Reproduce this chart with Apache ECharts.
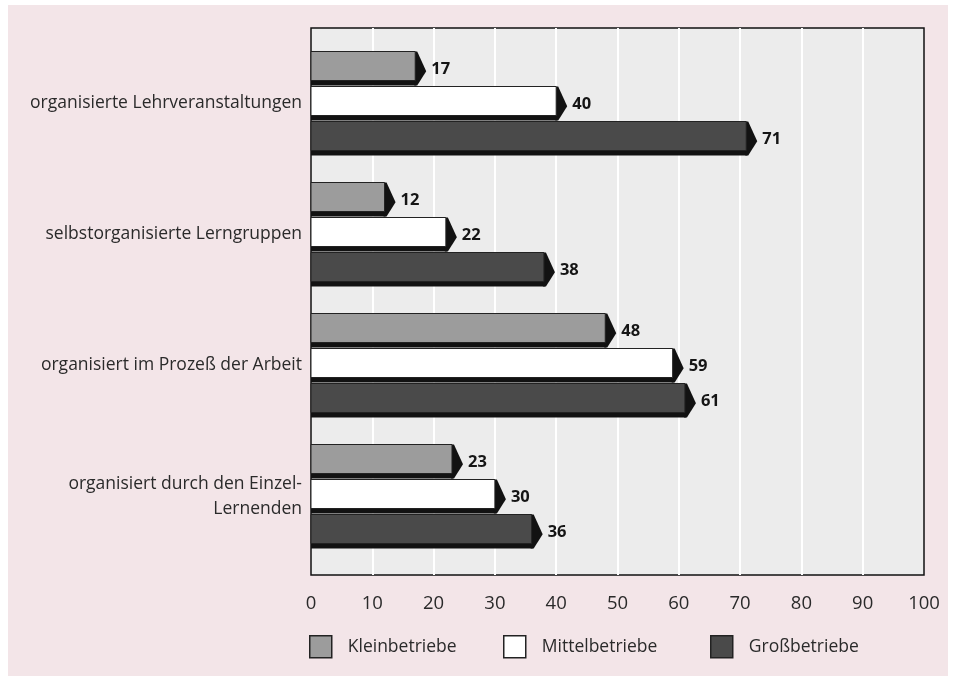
<!DOCTYPE html>
<html>
<head>
<meta charset="utf-8">
<script src="https://cdn.jsdelivr.net/npm/echarts@6/dist/echarts.min.js"></script>
<style>
  html, body { margin: 0; padding: 0; background: #ffffff; }
  #paper { position: absolute; left: 8px; top: 5px; width: 940px; height: 671px; background: #f3e5e8; }
  #main { position: absolute; left: 0; top: 0; width: 956px; height: 676px; }
</style>
</head>
<body>
<div id="paper"></div>
<div id="main"></div>
<script>
// ---- data ----
const categories = [
  'organisierte Lehrveranstaltungen',
  'selbstorganisierte Lerngruppen',
  'organisiert im Prozeß der Arbeit',
  'organisiert durch den Einzel-\nLernenden'
];
const seriesNames = ['Kleinbetriebe', 'Mittelbetriebe', 'Großbetriebe'];
const kleinbetriebe = [17, 12, 48, 23];
const mittelbetriebe = [40, 22, 59, 30];
const grossbetriebe = [71, 38, 61, 36];
const xTicks = [0, 10, 20, 30, 40, 50, 60, 70, 80, 90, 100];

// ---- styles ----
const colors = ['#9c9c9c', '#ffffff', '#4a4a4a'];
const dark = '#121212';
const FONT = '"Open Sans", "Noto Sans", sans-serif';

const chart = echarts.init(document.getElementById('main'), null, { renderer: 'canvas' });

function renderBar(params, api) {
  const val = api.value(0);
  const cat = api.value(1);
  const end = api.coord([val, cat]);
  const start = api.coord([0, cat]);
  const band = api.size([0, 1])[1];
  const pitch = band * 35 / 131;
  const barH = band * 29 / 131;
  const sh = band * 5 / 131;
  const total = barH + sh;
  const center = end[1] + (params.seriesIndex - 1) * pitch;
  const top = center - total / 2;
  const x0 = start[0];
  const vx = end[0];
  const fill = colors[params.seriesIndex];
  return {
    type: 'group',
    children: [
      { type: 'rect', shape: { x: x0, y: top + barH - 1, width: vx - x0 + 1, height: sh + 1 },
        style: { fill: dark } },
      { type: 'polygon',
        shape: { points: [[vx - 1, top], [vx + 2, top], [vx + 11, top + total * 0.58], [vx + 2, top + total], [vx - 1, top + total]] },
        style: { fill: dark } },
      { type: 'rect', shape: { x: x0, y: top, width: vx - x0, height: barH },
        style: { fill: fill, stroke: '#222', lineWidth: 1 } },
      { type: 'text',
        style: { text: String(val), x: vx + 16, y: top + total * 0.53, verticalAlign: 'middle', align: 'left',
                 font: 'bold 16.5px ' + FONT, fill: '#151515' } }
    ]
  };
}

const seriesData = [kleinbetriebe, mittelbetriebe, grossbetriebe];

function legendFor(i, left) {
  return {
    left: left, top: 635, padding: 0,
    itemWidth: 22, itemHeight: 22, itemGap: 0,
    selectedMode: false,
    data: [{ name: seriesNames[i], icon: 'rect',
             itemStyle: { color: colors[i], borderColor: '#222', borderWidth: 1.5 } }],
    textStyle: { fontFamily: FONT, fontSize: 17.5, color: '#2a2a2a', padding: [0, 0, 0, 11] }
  };
}

const option = {
  backgroundColor: 'transparent',
  animation: false,
  grid: [
    { left: 311, top: 28, width: 613, height: 547, show: true, backgroundColor: '#ececec',
      borderColor: '#111', borderWidth: 1.5 },
    { left: 311, top: 38, width: 613, height: 524 }
  ],
  xAxis: [
    { type: 'value', gridIndex: 0, min: 0, max: 100, interval: 10,
      axisLine: { show: false }, axisTick: { show: false },
      splitLine: { show: true, showMinLine: false, showMaxLine: false, lineStyle: { color: '#ffffff', width: 2 } },
      axisLabel: { fontFamily: FONT, fontSize: 18.5, color: '#2a2a2a', margin: 19,
                   formatter: v => xTicks.indexOf(v) >= 0 ? String(v) : '' } },
    { type: 'value', gridIndex: 1, min: 0, max: 100, interval: 10, show: false }
  ],
  yAxis: [
    { type: 'category', gridIndex: 0, show: false, data: ['a'] },
    { type: 'category', gridIndex: 1, data: categories, inverse: true,
      axisLine: { show: false }, axisTick: { show: false },
      axisLabel: { fontFamily: FONT, fontSize: 17.5, color: '#2a2a2a', margin: 9, lineHeight: 25, align: 'right' } }
  ],
  legend: [legendFor(0, 309), legendFor(1, 503), legendFor(2, 710)],
  series: seriesData.map((vals, i) => ({
    name: seriesNames[i],
    type: 'custom',
    xAxisIndex: 1, yAxisIndex: 1,
    renderItem: renderBar,
    clip: false,
    itemStyle: { color: colors[i], borderColor: '#222', borderWidth: 1.5 },
    encode: { x: 0, y: 1 },
    data: vals.map((v, j) => [v, j])
  }))
};

chart.setOption(option);
</script>
</body>
</html>
